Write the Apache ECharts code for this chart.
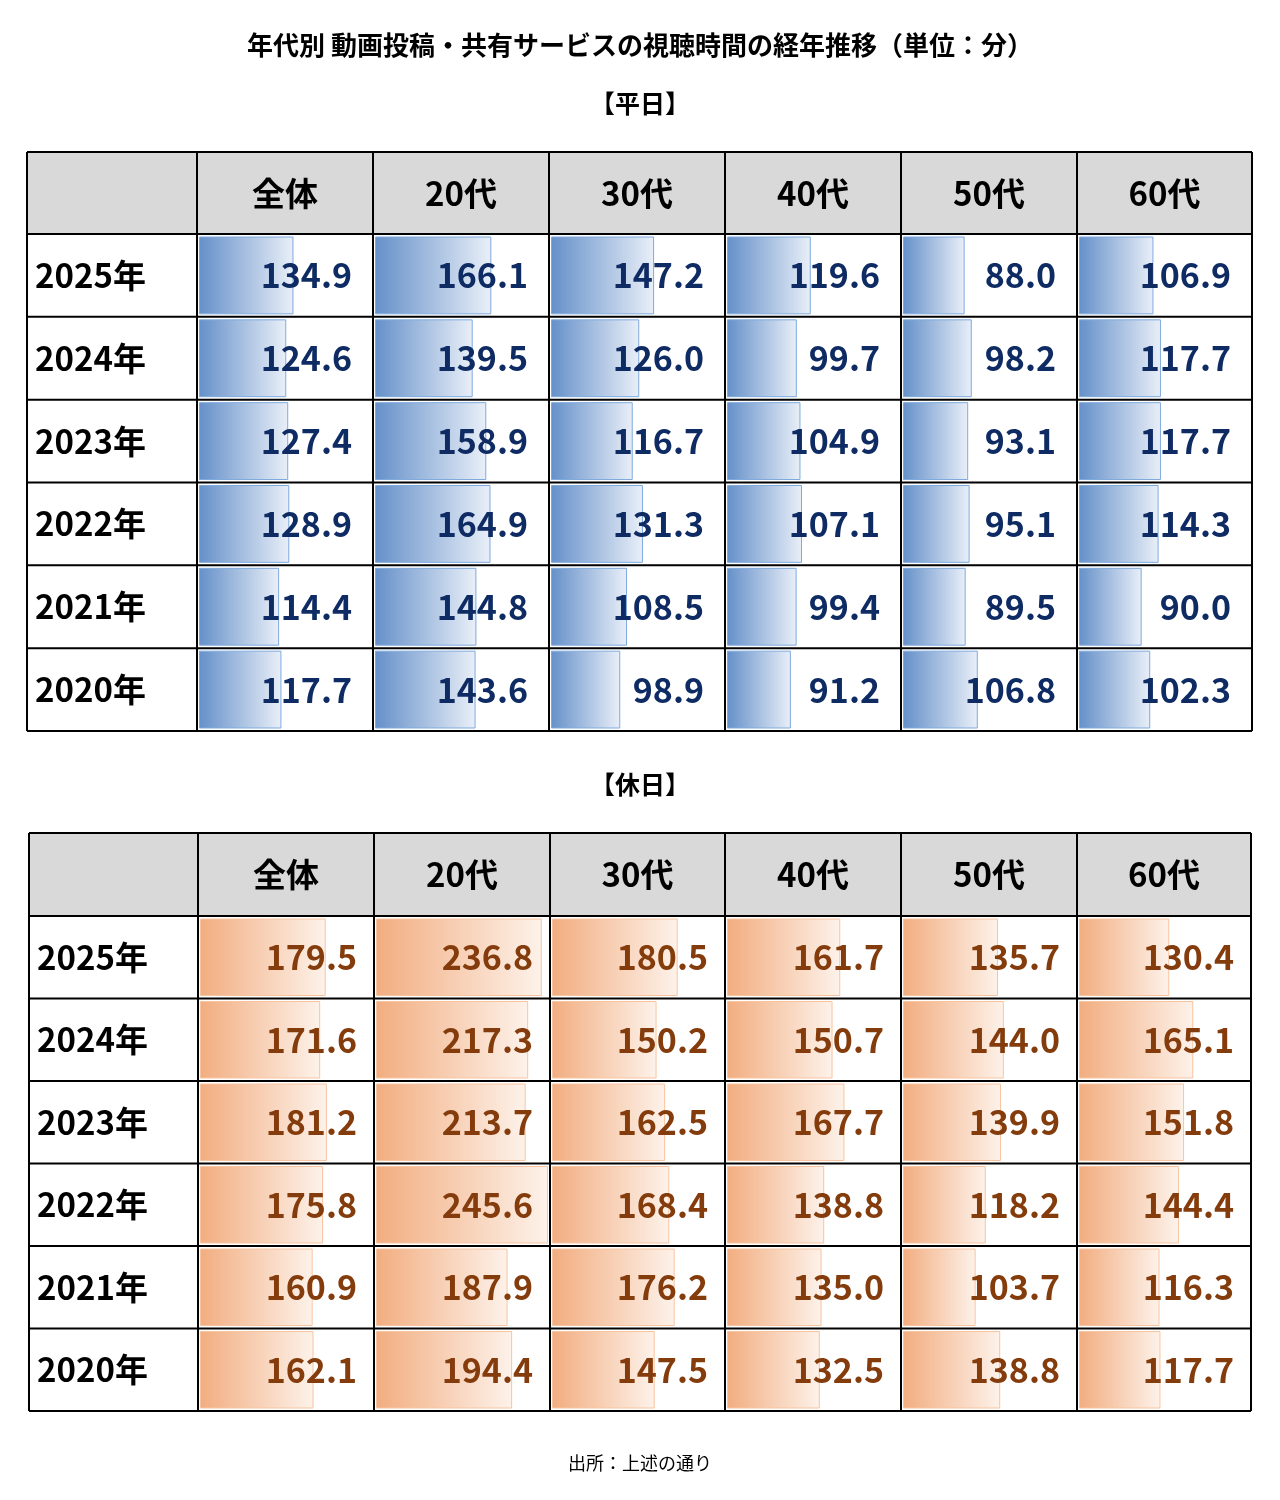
<!DOCTYPE html>
<html>
<head>
<meta charset="utf-8">
<script src="https://cdn.jsdelivr.net/npm/echarts@6/dist/echarts.min.js"></script>
<style>
  html, body { margin: 0; padding: 0; background: #fff; }
  #chart { width: 1280px; height: 1500px; }
</style>
</head>
<body>
<div id="chart"></div>
<script>
// categories
const years = ['2025年', '2024年', '2023年', '2022年', '2021年', '2020年'];
const ageGroups = ['全体', '20代', '30代', '40代', '50代', '60代'];

// 平日 (minutes), one array per age group, in year order
const wdAll = [134.9, 124.6, 127.4, 128.9, 114.4, 117.7];
const wd20 = [166.1, 139.5, 158.9, 164.9, 144.8, 143.6];
const wd30 = [147.2, 126.0, 116.7, 131.3, 108.5, 98.9];
const wd40 = [119.6, 99.7, 104.9, 107.1, 99.4, 91.2];
const wd50 = [88.0, 98.2, 93.1, 95.1, 89.5, 106.8];
const wd60 = [106.9, 117.7, 117.7, 114.3, 90.0, 102.3];

// 休日 (minutes)
const hdAll = [179.5, 171.6, 181.2, 175.8, 160.9, 162.1];
const hd20 = [236.8, 217.3, 213.7, 245.6, 187.9, 194.4];
const hd30 = [180.5, 150.2, 162.5, 168.4, 176.2, 147.5];
const hd40 = [161.7, 150.7, 167.7, 138.8, 135.0, 132.5];
const hd50 = [135.7, 144.0, 139.9, 118.2, 103.7, 138.8];
const hd60 = [130.4, 165.1, 151.8, 144.4, 116.3, 117.7];

const weekday = [wdAll, wd20, wd30, wd40, wd50, wd60];
const holiday = [hdAll, hd20, hd30, hd40, hd50, hd60];

// data bars share one scale across both tables
const barMax = Math.max(...weekday.flat(), ...holiday.flat());

const FONT = '"Noto Sans CJK JP", "Noto Sans", sans-serif';

const grid = [], xAxis = [], yAxis = [], series = [], graphic = [];

function addTable(values, layout, style) {
  const { cols, top, headTop, bottom, labelX, pad } = layout;
  const rowH = (bottom - top) / years.length;

  // header background
  graphic.push({
    type: 'rect', z: 0,
    shape: { x: cols[0], y: headTop, width: cols[7] - cols[0], height: top - headTop },
    style: { fill: '#d9d9d9' }
  });

  values.forEach((col, c) => {
    const left = cols[c + 1] + 2;
    const width = cols[c + 2] - cols[c + 1] - 4;
    const idx = grid.length;
    grid.push({ left: left, top: top, width: width, height: bottom - top });
    xAxis.push({ gridIndex: idx, type: 'value', min: 0, max: barMax, show: false });
    yAxis.push({
      gridIndex: idx, type: 'category', data: years, inverse: true,
      axisLine: { show: false }, axisTick: { show: false }, splitLine: { show: false },
      axisLabel: {
        show: c === 0, align: 'left', margin: left - labelX,
        fontFamily: FONT, fontSize: 33, fontWeight: 'bold', color: '#000'
      }
    });
    series.push({
      type: 'bar', xAxisIndex: idx, yAxisIndex: idx, data: col,
      barWidth: rowH - 5,
      itemStyle: {
        color: new echarts.graphic.LinearGradient(0, 0, 1, 0, [
          { offset: 0, color: style.from },
          { offset: 1, color: style.to }
        ]),
        borderColor: style.border, borderWidth: 1
      },
      label: {
        show: true, position: [width + 2 - pad, '50%'],
        align: 'right', verticalAlign: 'middle',
        formatter: p => p.value.toFixed(1),
        fontFamily: FONT, fontSize: 34, fontWeight: 'bold', color: style.text
      },
      silent: true, animation: false
    });

    // header text
    graphic.push({
      type: 'text', z: 10,
      x: (cols[c + 1] + cols[c + 2]) / 2, y: (headTop + top) / 2,
      style: {
        text: ageGroups[c], align: 'center', verticalAlign: 'middle',
        font: 'bold 33px ' + FONT, fill: '#000'
      }
    });
  });

  // table lines
  const ys = [headTop, top];
  for (let r = 1; r <= years.length; r++) ys.push(top + r * rowH);
  ys.forEach(y => graphic.push({
    type: 'line', z: 20,
    shape: { x1: cols[0], y1: y, x2: cols[7], y2: y },
    style: { stroke: '#000', lineWidth: 2 }
  }));
  cols.forEach(x => graphic.push({
    type: 'line', z: 20,
    shape: { x1: x, y1: headTop, x2: x, y2: bottom },
    style: { stroke: '#000', lineWidth: 2 }
  }));
}

addTable(weekday,
  { cols: [27, 197, 373, 549, 725, 901, 1077, 1252], headTop: 152, top: 234, bottom: 731, labelX: 35, pad: 21 },
  { from: '#6590c9', to: '#e9eff8', border: '#7eaade', text: '#0f2b63' });

addTable(holiday,
  { cols: [29, 198, 374, 550, 725, 901, 1077, 1251], headTop: 833, top: 916, bottom: 1411, labelX: 37, pad: 17 },
  { from: '#f2ad80', to: '#fdf2ea', border: '#f8c4a0', text: '#843c0c' });

const titles = [
  { text: '年代別 動画投稿・共有サービスの視聴時間の経年推移（単位：分）', y: 45, font: 'bold 26px ' + FONT },
  { text: '【平日】', y: 103, font: 'bold 25px ' + FONT },
  { text: '【休日】', y: 784, font: 'bold 25px ' + FONT },
  { text: '出所：上述の通り', y: 1463, font: '18px ' + FONT }
];
titles.forEach(t => graphic.push({
  type: 'text', x: 640, y: t.y,
  style: { text: t.text, align: 'center', verticalAlign: 'middle', font: t.font, fill: '#000' }
}));

const chart = echarts.init(document.getElementById('chart'), null, { renderer: 'canvas' });
chart.setOption({
  backgroundColor: '#fff',
  animation: false,
  grid, xAxis, yAxis, series, graphic
});
</script>
</body>
</html>
